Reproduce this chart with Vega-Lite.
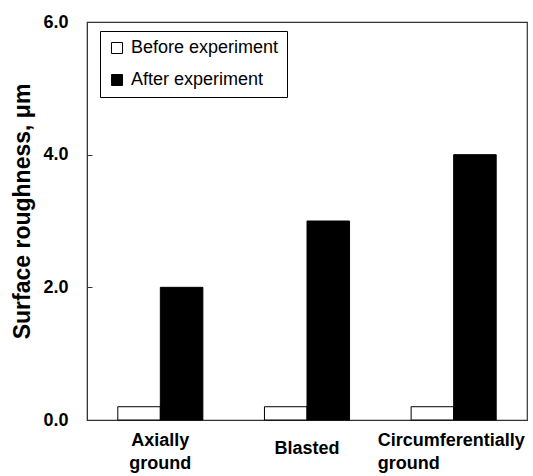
{
  "$schema": "https://vega.github.io/schema/vega-lite/v6.json",
  "width": 440,
  "height": 398,
  "autosize": {"type": "none"},
  "padding": {"left": 87, "top": 22, "right": 6, "bottom": 56},
  "background": "white",
  "config": {
    "font": "Liberation Sans",
    "view": {"stroke": "#333", "strokeWidth": 1.2}
  },
  "data": {
    "values": [
      {"surface": "Axially ground", "series": "Before experiment", "roughness": 0.2},
      {"surface": "Axially ground", "series": "After experiment", "roughness": 2.0},
      {"surface": "Blasted", "series": "Before experiment", "roughness": 0.2},
      {"surface": "Blasted", "series": "After experiment", "roughness": 3.0},
      {"surface": "Circumferentially ground", "series": "Before experiment", "roughness": 0.2},
      {"surface": "Circumferentially ground", "series": "After experiment", "roughness": 4.0}
    ]
  },
  "mark": {"type": "bar", "stroke": "black", "strokeWidth": 1},
  "encoding": {
    "x": {
      "field": "surface",
      "type": "nominal",
      "sort": ["Axially ground", "Blasted", "Circumferentially ground"],
      "scale": {"paddingInner": 0.42, "paddingOuter": 0.21},
      "axis": {
        "title": null,
        "labelAngle": 0,
        "ticks": false,
        "domain": true,
        "domainColor": "#333",
        "labelExpr": "split(datum.label, ' ')",
        "labelFont": "Liberation Sans",
        "labelFontWeight": "bold",
        "labelFontSize": 18,
        "labelColor": "black",
        "labelBaseline": "top",
        "labelLineHeight": 23,
        "labelAlign": {"expr": "datum.label == 'Circumferentially ground' ? 'left' : 'center'"},
        "labelOffset": {"expr": "datum.label == 'Circumferentially ground' ? -76 : 0"},
        "labelPadding": {"expr": "datum.label == 'Blasted' ? 19 : 11"}
      }
    },
    "xOffset": {
      "field": "series",
      "type": "nominal",
      "sort": ["Before experiment", "After experiment"],
      "scale": {"paddingInner": 0, "paddingOuter": 0}
    },
    "y": {
      "field": "roughness",
      "type": "quantitative",
      "scale": {"domain": [0, 6], "nice": false},
      "axis": {
        "title": "Surface roughness,  μm",
        "values": [0, 2, 4, 6],
        "format": ".1f",
        "grid": false,
        "tickSize": -5,
        "tickColor": "#333",
        "domainColor": "#333",
        "labelFont": "Liberation Sans",
        "labelFontWeight": "bold",
        "labelFontSize": 18,
        "labelColor": "black",
        "labelPadding": 24,
        "titleFont": "Liberation Sans",
        "titleFontWeight": "bold",
        "titleFontSize": 23,
        "titleColor": "black",
        "titleX": -65,
        "titleY": 189,
        "titleAngle": -90,
        "titleAlign": "center",
        "titleBaseline": "middle"
      }
    },
    "color": {
      "field": "series",
      "type": "nominal",
      "sort": ["Before experiment", "After experiment"],
      "scale": {"domain": ["Before experiment", "After experiment"], "range": ["white", "black"]},
      "legend": {
        "title": null,
        "orient": "none",
        "legendX": 13,
        "legendY": 9,
        "strokeColor": "black",
        "fillColor": "white",
        "padding": 8,
        "symbolType": "square",
        "symbolSize": 121,
        "symbolStrokeColor": "black",
        "symbolStrokeWidth": 1,
        "labelFont": "Liberation Sans",
        "labelFontSize": 18,
        "labelColor": "black",
        "labelOffset": 5,
        "rowPadding": 14,
        "labelLimit": 300
      }
    }
  }
}
